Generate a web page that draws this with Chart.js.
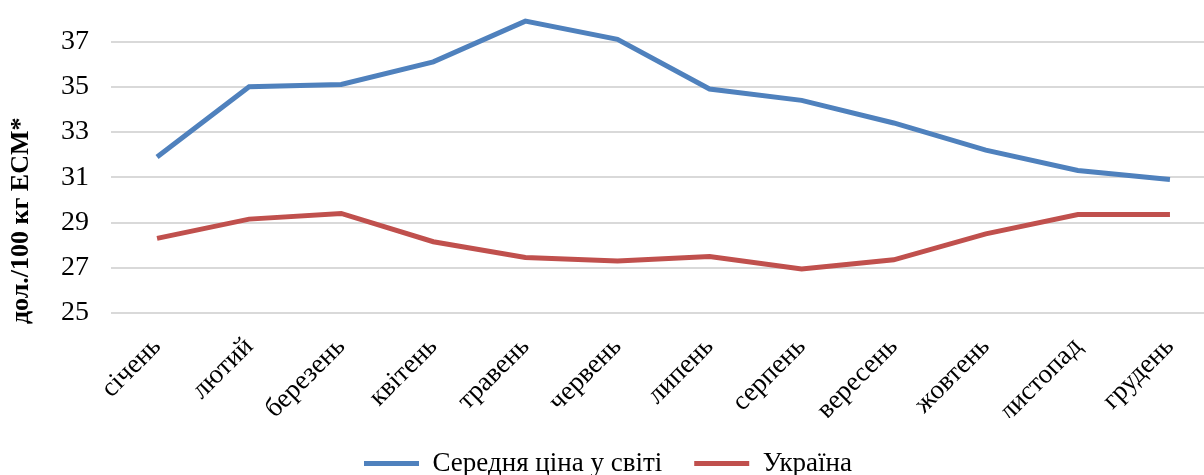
<!DOCTYPE html>
<html>
<head>
<meta charset="utf-8">
<script src="https://cdn.jsdelivr.net/npm/chart.js@4/dist/chart.umd.min.js"></script>
<style>
  html, body { margin: 0; padding: 0; background: #fff; overflow: hidden; }
  #wrap { position: absolute; left: 0; top: -38px; width: 1242px; height: 525px; }
</style>
</head>
<body>
<div id="wrap"><canvas id="priceChart"></canvas></div>
<script>
const months = ["січень", "лютий", "березень", "квітень", "травень", "червень",
  "липень", "серпень", "вересень", "жовтень", "листопад", "грудень"];
const worldPrice = [31.9, 35.0, 35.1, 36.1, 37.9, 37.1, 34.9, 34.4, 33.4, 32.2, 31.3, 30.9];
const ukrainePrice = [28.3, 29.15, 29.4, 28.15, 27.45, 27.3, 27.5, 26.95, 27.35, 28.5, 29.35, 29.35];
const yTicks = [25, 27, 29, 31, 33, 35, 37];
const yTitle = "дол./100 кг ЕСМ*";

const serif = "'Liberation Serif', 'Times New Roman', serif";

// Excel puts the axis title a bit lower than the middle of the axis,
// so it is drawn here instead of through scale.title
const yTitlePlugin = {
  id: "yTitle",
  afterDraw: (chart) => {
    const c = chart.ctx;
    const area = chart.chartArea;
    c.save();
    c.translate(21, area.top + 220);
    c.rotate(-Math.PI / 2);
    c.font = "bold 26px " + serif;
    c.fillStyle = "#000";
    c.textAlign = "center";
    c.textBaseline = "middle";
    c.fillText(yTitle, 0, 0);
    c.restore();
  },
};

const ctx = document.getElementById("priceChart").getContext("2d");
const priceChart = new Chart(ctx, {
  type: "line",
  data: {
    labels: months,
    datasets: [
      {
        label: "Середня ціна у світі",
        data: worldPrice,
        borderColor: "#4f81bd",
        backgroundColor: "#4f81bd",
        borderWidth: 5,
        pointRadius: 0,
        tension: 0,
      },
      {
        label: "Україна",
        data: ukrainePrice,
        borderColor: "#c0504d",
        backgroundColor: "#c0504d",
        borderWidth: 5,
        pointRadius: 0,
        tension: 0,
      },
    ],
  },
  options: {
    responsive: true,
    maintainAspectRatio: false,
    animation: false,
    layout: { padding: { top: 0, right: 26, bottom: 0, left: 0 } },
    plugins: {
      tooltip: { enabled: false },
      legend: {
        position: "bottom",
        labels: {
          font: { family: serif, size: 27 },
          color: "#000",
          boxWidth: 55,
          boxHeight: 5,
          padding: 32,
          generateLabels: (chart) =>
            Chart.defaults.plugins.legend.labels
              .generateLabels(chart)
              .map((item) => ({ ...item, lineWidth: 0 })),
        },
      },
    },
    scales: {
      x: {
        offset: true,
        grid: { display: false },
        border: { display: false },
        ticks: {
          font: { family: serif, size: 27 },
          color: "#000",
          maxRotation: 45,
          minRotation: 45,
          padding: 10,
        },
        afterFit: (scale) => {
          scale.height = 105;
        },
      },
      y: {
        min: 25,
        max: 38.8,
        grid: { color: "#d9d9d9", lineWidth: 2, drawTicks: false },
        border: { display: false },
        afterBuildTicks: (scale) => {
          scale.ticks = yTicks.map((v) => ({ value: v }));
        },
        ticks: {
          font: { family: serif, size: 28 },
          color: "#000",
          padding: 22,
        },
        afterFit: (scale) => {
          scale.width = 111;
        },
      },
    },
  },
  plugins: [yTitlePlugin],
});
</script>
</body>
</html>
